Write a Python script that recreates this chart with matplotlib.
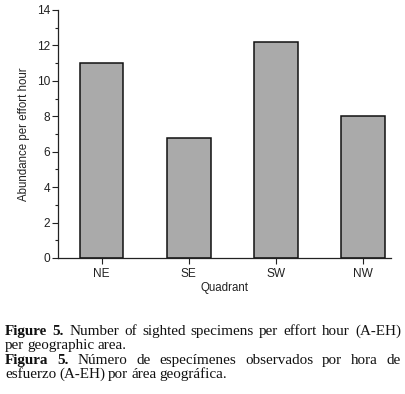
import matplotlib
matplotlib.use("Agg")
import matplotlib.pyplot as plt
from matplotlib.ticker import MultipleLocator

categories = ["NE", "SE", "SW", "NW"]
values = [11.0, 6.8, 12.2, 8.0]
yticks = [0, 2, 4, 6, 8, 10, 12, 14]

fig = plt.figure(figsize=(4.06, 3.94), dpi=100)
ax = fig.add_axes([58/406, 1-258/394, (391-58)/406, (258-10)/394])
x = list(range(len(categories)))
ax.bar(x, values, width=0.5, color="#aaaaaa", edgecolor="#111111", linewidth=1.1, zorder=2)
ax.set_xlim(-0.5, 3.32)
ax.set_ylim(0, 14)
ax.set_yticks(yticks)
ax.yaxis.set_minor_locator(MultipleLocator(1))
ax.set_xticks(x)
ax.set_xticklabels(categories)
for s in ["top", "right"]:
    ax.spines[s].set_visible(False)
for s in ["left", "bottom"]:
    ax.spines[s].set_linewidth(0.9)
    ax.spines[s].set_color("#222222")
tfont = dict(family="Liberation Sans", size=8.3, color="#222222")
ax.tick_params(axis="both", which="major", length=4, width=0.8, direction="out", labelsize=8.6, colors="#222222")
ax.tick_params(axis="y", which="major", pad=1.5)
ax.tick_params(axis="x", which="major", pad=3.0)
ax.tick_params(axis="y", which="minor", length=2.5, width=0.8, colors="#222222")
for lab in ax.get_xticklabels() + ax.get_yticklabels():
    lab.set_family("Liberation Sans")
ax.set_xlabel("Quadrant", fontdict=tfont, labelpad=2)
ax.set_ylabel("Abundance per effort hour", fontdict=tfont, labelpad=5)

# Caption, justified
caption = [
    [("Figure 5.", True), ("Number of sighted specimens per effort hour (A-EH)", False)],
    [("per geographic area.", False)],
    [("Figura 5.", True), ("Número de especímenes observados por hora de", False)],
    [("esfuerzo (A-EH) por área geográfica.", False)],
]
justify = [True, False, True, False]
baselines = [335, 349, 364, 378]
x0, x1 = 5, 401
fig.canvas.draw()
r = fig.canvas.get_renderer()
for line, just, yb in zip(caption, justify, baselines):
    words = []
    for seg, bold in line:
        for w in seg.split(" "):
            words.append((w, bold))
    texts = []
    for w, bold in words:
        t = fig.text(0, 1 - yb/394, w, family="Liberation Serif", size=10.9,
                     weight="bold" if bold else "normal", va="baseline", ha="left", color="#111111")
        texts.append(t)
    widths = [t.get_window_extent(r).width for t in texts]
    if just and len(texts) > 1:
        gap = (x1 - x0 - sum(widths)) / (len(texts) - 1)
    else:
        gap = 3.0
    cx = x0
    for t, w in zip(texts, widths):
        t.set_x(cx / 406)
        cx += w + gap

fig.savefig("out.png", dpi=100)
